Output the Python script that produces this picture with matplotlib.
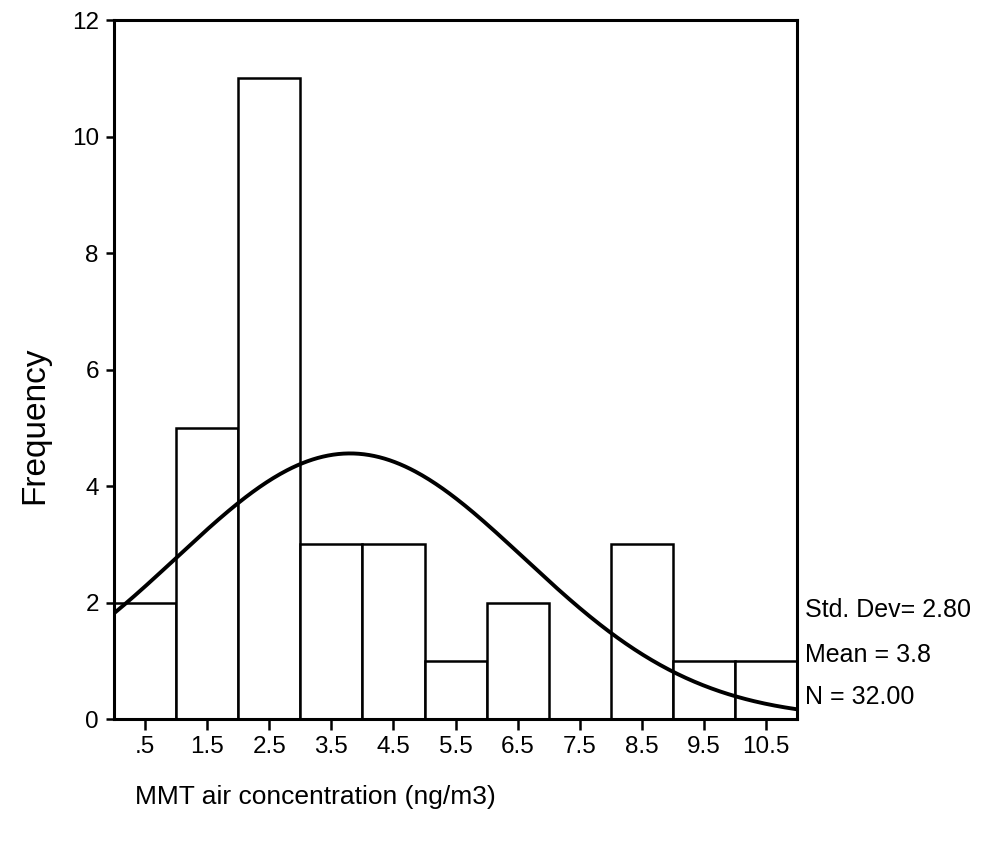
import numpy as np
import matplotlib
matplotlib.use('Agg')
import matplotlib.pyplot as plt

plt.rcParams['font.family'] = ['Liberation Sans', 'DejaVu Sans']

# histogram bins (width 1) and counts
bin_left = [0, 1, 2, 3, 4, 5, 6, 7, 8, 9, 10]
counts = [2, 5, 11, 3, 3, 1, 2, 0, 3, 1, 1]
tick_pos = [0.5, 1.5, 2.5, 3.5, 4.5, 5.5, 6.5, 7.5, 8.5, 9.5, 10.5]
tick_lab = ['.5', '1.5', '2.5', '3.5', '4.5', '5.5', '6.5', '7.5', '8.5', '9.5', '10.5']

# summary stats shown on the right
std_dev = 2.80
mean = 3.8
n_obs = 32

fig = plt.figure(figsize=(9.9, 8.48), dpi=100)
ax = fig.add_axes([0.1152, 0.1521, 0.6899, 0.8243])

ax.bar(bin_left, counts, width=1.0, align='edge', color='white',
       edgecolor='black', linewidth=1.8)

# normal curve scaled to the counts
xs = np.linspace(0, 11, 400)
ys = n_obs * 1.0 / (std_dev * np.sqrt(2 * np.pi)) * np.exp(-0.5 * ((xs - mean) / std_dev) ** 2)
ax.plot(xs, ys, color='black', linewidth=2.8)

ax.set_xlim(0, 11)
ax.set_ylim(0, 12)
ax.set_xticks(tick_pos)
ax.set_xticklabels(tick_lab)
ax.set_yticks([0, 2, 4, 6, 8, 10, 12])
ax.tick_params(axis='both', labelsize=17.5, width=1.8, direction='out')
ax.tick_params(axis='x', length=8, pad=4)
ax.tick_params(axis='y', length=6, pad=5)
for s in ax.spines.values():
    s.set_linewidth(2.2)

fig.text(0.035, 0.499, 'Frequency', fontsize=24, rotation=90,
         ha='center', va='center')
fig.text(0.319, 0.06, 'MMT air concentration (ng/m3)', fontsize=19,
         ha='center', va='center')

fs = 18
fig.text(0.813, 0.281, 'Std. Dev= 2.80', fontsize=fs, va='center')
fig.text(0.813, 0.228, 'Mean = 3.8', fontsize=fs, va='center')
fig.text(0.813, 0.178, 'N = 32.00', fontsize=fs, va='center')

fig.savefig('out.png', dpi=100)
